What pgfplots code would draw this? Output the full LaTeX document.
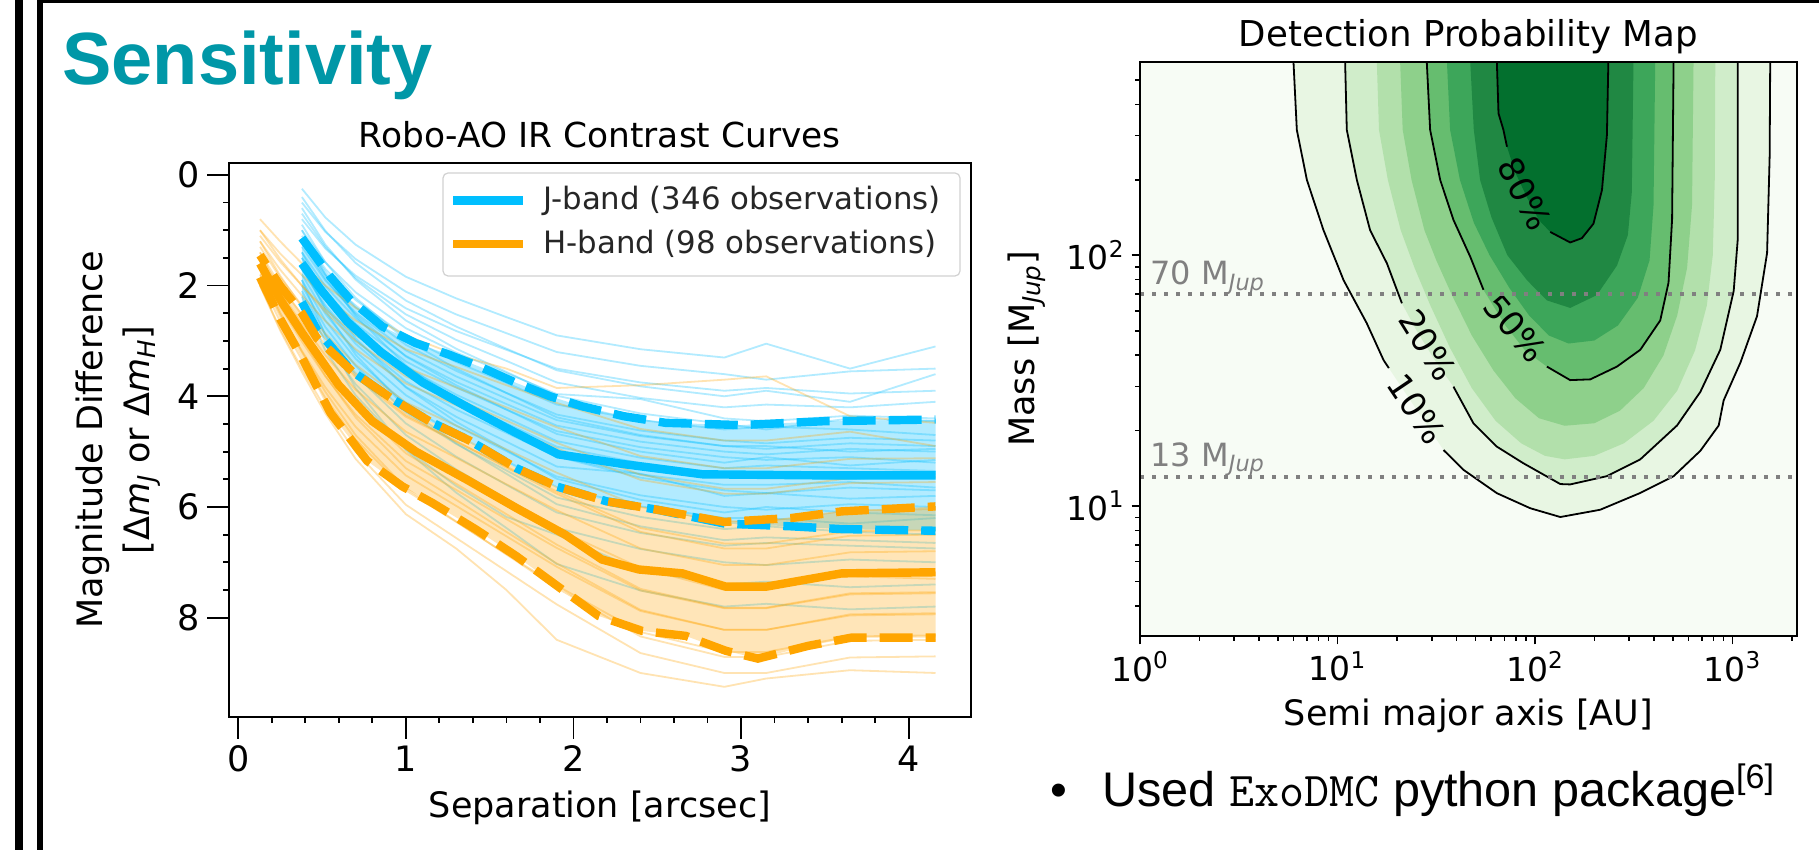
\documentclass[border=0pt]{standalone}
\usepackage{fontspec}
\setmainfont{DejaVu Sans}
\newfontfamily\arialfont{Liberation Sans}
\usepackage{pgfplots}
\pgfplotsset{compat=1.18}
\usepackage{pgfplotstable}

\definecolor{jband}{HTML}{00BFFF}
\definecolor{hband}{HTML}{FFA500}
\definecolor{slideteal}{HTML}{0097A7}
\definecolor{g0}{HTML}{F7FCF5}
\definecolor{g1}{HTML}{E8F6E3}
\definecolor{g2}{HTML}{D0EDCA}
\definecolor{g3}{HTML}{B2E0AB}
\definecolor{g4}{HTML}{8ED08B}
\definecolor{g5}{HTML}{66BD6F}
\definecolor{g6}{HTML}{3DA65A}
\definecolor{g7}{HTML}{208843}
\definecolor{g8}{HTML}{03702E}

\pgfplotsset{
  bthin/.style={color=jband, opacity=0.3, line width=0.9pt},
  othin/.style={color=hband, opacity=0.3, line width=0.9pt},
  thicksolid/.style={line width=4.2pt},
  thickdash/.style={line width=4.2pt, dash pattern=on 16.5pt off 6.5pt},
  cline/.style={black, line width=0.9pt},
}

% ---- contrast curve percentiles (separation [arcsec], delta mag)
\pgfplotstableread{
x y
0.38 1.14
0.55 1.84
0.67 2.26
0.86 2.74
1.06 3.04
1.26 3.25
1.46 3.49
1.66 3.76
1.86 4.00
2.05 4.18
2.30 4.36
2.55 4.48
3.00 4.52
3.50 4.45
4.16 4.42
}\bup
\pgfplotstableread{
x y
0.38 1.60
0.50 2.10
0.65 2.65
0.85 3.20
1.10 3.75
1.40 4.25
1.65 4.65
1.91 5.05
2.31 5.23
2.77 5.41
3.50 5.43
4.16 5.43
}\bmed
\pgfplotstableread{
x y
0.38 2.30
0.47 2.80
0.68 3.55
0.92 4.05
1.14 4.45
1.38 4.80
1.66 5.30
1.90 5.63
2.20 5.90
2.50 6.05
2.90 6.30
3.30 6.35
3.60 6.40
4.16 6.43
}\bdn
\pgfplotstableread{
x y
0.13 1.45
0.25 2.00
0.38 2.50
0.47 2.95
0.68 3.55
0.92 4.05
1.14 4.45
1.38 4.80
1.66 5.30
1.90 5.63
2.20 5.90
2.50 6.05
2.90 6.27
3.30 6.20
3.60 6.08
4.16 5.99
}\oup
\pgfplotstableread{
x y
0.13 1.60
0.25 2.25
0.38 2.85
0.60 3.80
0.80 4.45
1.06 5.00
1.36 5.50
1.66 6.02
1.95 6.50
2.17 6.95
2.39 7.13
2.65 7.20
2.91 7.44
3.15 7.44
3.60 7.20
4.16 7.18
}\omed
\pgfplotstableread{
x y
0.13 1.85
0.25 2.60
0.38 3.30
0.55 4.30
0.77 5.17
0.98 5.63
1.16 5.93
1.42 6.41
1.66 6.89
1.90 7.42
2.15 7.97
2.41 8.24
2.67 8.33
2.91 8.60
3.10 8.74
3.40 8.51
3.66 8.36
4.16 8.36
}\odn
% inter-percentile bands (upper percentile forward, lower one back)
\pgfplotstableread{
x y
0.38 1.14
0.55 1.84
0.67 2.26
0.86 2.74
1.06 3.04
1.26 3.25
1.46 3.49
1.66 3.76
1.86 4.00
2.05 4.18
2.30 4.36
2.55 4.48
3.00 4.52
3.50 4.45
4.16 4.42
4.16 6.43
3.60 6.40
3.30 6.35
2.90 6.30
2.50 6.05
2.20 5.90
1.90 5.63
1.66 5.30
1.38 4.80
1.14 4.45
0.92 4.05
0.68 3.55
0.47 2.80
0.38 2.30
}\bband
\pgfplotstableread{
x y
0.13 1.45
0.25 2.00
0.38 2.50
0.47 2.95
0.68 3.55
0.92 4.05
1.14 4.45
1.38 4.80
1.66 5.30
1.90 5.63
2.20 5.90
2.50 6.05
2.90 6.27
3.30 6.20
3.60 6.08
4.16 5.99
4.16 8.36
3.66 8.36
3.40 8.51
3.10 8.74
2.91 8.60
2.67 8.33
2.41 8.24
2.15 7.97
1.90 7.42
1.66 6.89
1.42 6.41
1.16 5.93
0.98 5.63
0.77 5.17
0.55 4.30
0.38 3.30
0.25 2.60
0.13 1.85
}\oband

% ---- detection probability contours: log10(a/AU), log10(M/MJup)
\pgfplotstableread{
lx ly
0.777 2.8
0.777 2.772
0.794 2.5
0.845 2.3
0.929 2.1
1.031 1.9
1.148 1.729
1.233 1.582
1.26 1.55
1.302 1.5
1.435 1.343
1.537 1.223
1.638 1.144
1.807 1.051
1.976 0.991
2.128 0.956
2.330 0.985
2.533 1.052
2.702 1.119
2.837 1.220
2.930 1.321
2.955 1.421
3.040 1.572
3.124 1.757
3.175 2.009
3.188 2.395
3.191 2.8
}\cten
\pgfplotstableread{
lx ly
1.0385 2.8
1.0385 2.772
1.047 2.5
1.098 2.3
1.165 2.1
1.25 1.968
1.326 1.8085
1.40 1.70
1.49 1.585
1.587 1.476
1.688 1.330
1.807 1.2365
1.942 1.170
2.128 1.0875
2.178 1.086
2.364 1.119
2.533 1.186
2.719 1.321
2.837 1.455
2.938 1.623
3.006 1.858
3.026 2.059
3.026 2.8
}\ctwenty
\pgfplotstableread{
lx ly
1.199 2.8
1.199 2.772
1.21 2.5
1.255 2.3
1.32 2.1
1.39 1.95
1.47 1.8
1.57 1.63
1.68 1.47
1.8 1.34
1.93 1.25
2.05 1.2
2.15 1.186
2.3 1.2
2.45 1.25
2.6 1.34
2.72 1.46
2.81 1.62
2.87 1.8
2.9 2.0
2.91 2.3
2.913 2.8
}\cthirty
\pgfplotstableread{
lx ly
1.317 2.8
1.317 2.772
1.33 2.5
1.375 2.3
1.44 2.1
1.5 1.98
1.58 1.84
1.68 1.68
1.79 1.54
1.9 1.43
2.02 1.35
2.15 1.32
2.3 1.33
2.43 1.38
2.55 1.47
2.65 1.6
2.72 1.76
2.77 1.95
2.795 2.2
2.803 2.8
}\cforty
\pgfplotstableread{
lx ly
1.452 2.8
1.452 2.77
1.469 2.5
1.520 2.3
1.587 2.141
1.672 1.994
1.739 1.862
1.85 1.72
1.95 1.62
2.06 1.556
2.178 1.502
2.28 1.505
2.415 1.556
2.533 1.623
2.634 1.740
2.676 1.891
2.694 2.143
2.702 2.8
}\cfifty
\pgfplotstableread{
lx ly
1.554 2.8
1.554 2.772
1.57 2.5
1.62 2.3
1.69 2.13
1.77 2.0
1.87 1.87
1.97 1.76
2.07 1.68
2.17 1.648
2.3 1.66
2.42 1.72
2.52 1.83
2.58 1.98
2.6 2.2
2.609 2.8
}\csixty
\pgfplotstableread{
lx ly
1.672 2.8
1.672 2.772
1.69 2.5
1.722 2.3
1.78 2.15
1.86 2.0
1.96 1.9
2.06 1.82
2.178 1.79
2.313 1.841
2.415 1.959
2.47 2.08
2.49 2.25
2.499 2.8
}\cseventy
\pgfplotstableread{
lx ly
1.807 2.8
1.807 2.766
1.815 2.566
1.840 2.5
1.858 2.433
1.9 2.33
1.96 2.23
2.02 2.14
2.077 2.093
2.178 2.051
2.237 2.068
2.296 2.126
2.339 2.26
2.364 2.479
2.372 2.8
}\ceighty

% contour line pieces, broken where the labels sit
\pgfplotstableread{
lx ly
0.777 2.8
0.777 2.772
0.794 2.5
0.845 2.3
0.929 2.1
1.031 1.9
1.148 1.729
1.233 1.582
1.26 1.55
}\ltena
\pgfplotstableread{
lx ly
1.537 1.223
1.638 1.144
1.807 1.051
1.976 0.991
2.128 0.956
2.330 0.985
2.533 1.052
2.702 1.119
2.837 1.220
2.930 1.321
2.955 1.421
3.040 1.572
3.124 1.757
3.175 2.009
3.188 2.395
3.191 2.8
}\ltenb
\pgfplotstableread{
lx ly
1.0385 2.8
1.0385 2.772
1.047 2.5
1.098 2.3
1.165 2.1
1.25 1.968
1.326 1.8085
}\ltwa
\pgfplotstableread{
lx ly
1.587 1.476
1.688 1.330
1.807 1.2365
1.942 1.170
2.128 1.0875
2.178 1.086
2.364 1.119
2.533 1.186
2.719 1.321
2.837 1.455
2.938 1.623
3.006 1.858
3.026 2.059
3.026 2.8
}\ltwb
\pgfplotstableread{
lx ly
1.452 2.8
1.452 2.77
1.469 2.5
1.520 2.3
1.587 2.141
1.672 1.994
1.739 1.862
}\lfia
\pgfplotstableread{
lx ly
2.06 1.556
2.178 1.502
2.28 1.505
2.415 1.556
2.533 1.623
2.634 1.740
2.676 1.891
2.694 2.143
2.702 2.8
}\lfib
\pgfplotstableread{
lx ly
1.807 2.8
1.807 2.766
1.815 2.566
1.840 2.5
1.858 2.433
}\leia
\pgfplotstableread{
lx ly
2.077 2.093
2.178 2.051
2.237 2.068
2.296 2.126
2.339 2.26
2.364 2.479
2.372 2.8
}\leib

\begin{document}
\begin{tikzpicture}[x=1pt,y=1pt]
\fill[white] (0,0) rectangle (909.5,425);
% slide frame
\fill[black] (7.5,0) rectangle (11.6,425);
\fill[black] (18.4,0) rectangle (21.6,425);
\fill[black] (18.4,423.6) rectangle (909.5,425);

\node[anchor=base west, inner sep=0, text=slideteal,
      font=\fontsize{37}{40}\arialfont\bfseries] at (31,382.5) {Sensitivity};

% ================= left: contrast curves
\begin{axis}[
  at={(114.5pt,66.65pt)}, anchor=south west,
  scale only axis, width=370.85pt, height=276.7pt,
  xmin=-0.055, xmax=4.37, ymin=-0.21, ymax=9.79, y dir=reverse,
  xtick={0,1,2,3,4}, ytick={0,2,4,6,8},
  minor x tick num=4, minor y tick num=3,
  tick align=outside, tick pos=left,
  major tick length=11pt, minor tick length=3pt,
  tick style={black, line width=0.9pt},
  axis line style={line width=0.9pt},
  ticklabel style={font=\fontsize{17.5}{20}\selectfont},
  /pgf/number format/assume math mode=true,
  title={Robo-AO IR Contrast Curves},
  title style={at={(0.5,1)}, anchor=base, yshift=1.65pt, font=\fontsize{17.2}{20}\selectfont},
  xlabel={Separation [arcsec]},
  xlabel style={at={(axis description cs:0.5,-0.183)}, anchor=base, font=\fontsize{17.5}{20}\selectfont},
  ylabel={Magnitude Difference\\{[}Δ\textit{m}\textsubscript{\textit{J}} or Δ\textit{m}\textsubscript{\textit{H}}{]}},
  ylabel style={at={(axis description cs:-0.1497,0.5)}, anchor=center, align=center,
                font=\fontsize{17.5}{23.5}\selectfont},
  no markers,
]
% J-band spread between the dashed percentiles
\addplot[fill=jband, fill opacity=0.3, draw=none] table {\bband};

% J-band individual curves
\addplot[bthin] coordinates {(0.38,0.25)(0.52,0.77)(0.7,1.26)(1.0,1.84)(1.3,2.23)(1.6,2.57)(1.9,2.90)(2.4,3.15)(2.9,3.30)(3.15,3.05)(3.65,3.50)(4.16,3.10)};
\addplot[bthin] coordinates {(0.38,0.50)(0.52,1.03)(0.7,1.52)(1.0,2.11)(1.3,2.52)(1.6,2.86)(1.9,3.20)(2.4,3.45)(2.9,3.60)(3.15,3.70)(3.65,3.55)(4.16,3.50)};
\addplot[bthin] coordinates {(0.38,0.80)(0.52,1.33)(0.7,1.82)(1.0,2.41)(1.3,2.82)(1.6,3.16)(1.9,3.50)(2.4,3.75)(2.9,3.90)(3.15,3.85)(3.65,3.95)(4.16,3.90)};
\addplot[bthin] coordinates {(0.38,0.70)(0.52,1.30)(0.7,1.86)(1.0,2.52)(1.3,2.98)(1.6,3.36)(1.9,3.75)(2.4,4.03)(2.9,4.20)(3.15,4.15)(3.65,4.20)(4.16,4.10)};
\addplot[bthin] coordinates {(0.38,1.00)(0.52,1.58)(0.7,2.12)(1.0,2.77)(1.3,3.21)(1.6,3.58)(1.9,3.96)(2.4,4.05)(2.9,4.40)(3.15,4.45)(3.65,4.35)(4.16,4.40)};
\addplot[bthin] coordinates {(0.38,1.10)(0.52,1.70)(0.7,2.26)(1.0,2.92)(1.3,3.38)(1.6,3.76)(1.9,4.15)(2.4,4.43)(2.9,4.60)(3.15,4.55)(3.65,4.60)(4.16,4.70)};
\addplot[bthin] coordinates {(0.38,1.20)(0.52,1.81)(0.7,2.39)(1.0,3.07)(1.3,3.54)(1.6,3.94)(1.9,4.33)(2.4,4.62)(2.9,4.80)(3.15,4.85)(3.65,4.75)(4.16,4.80)};
\addplot[bthin] coordinates {(0.38,1.30)(0.52,1.91)(0.7,2.49)(1.0,3.17)(1.3,3.64)(1.6,4.04)(1.9,4.43)(2.4,4.72)(2.9,4.90)(3.15,4.90)(3.65,5.00)(4.16,4.95)};
\addplot[bthin] coordinates {(0.38,1.40)(0.52,2.01)(0.7,2.59)(1.0,3.27)(1.3,3.74)(1.6,4.14)(1.9,4.53)(2.4,4.82)(2.9,5.00)(3.15,5.05)(3.65,4.95)(4.16,5.00)};
\addplot[bthin] coordinates {(0.38,1.50)(0.52,2.11)(0.7,2.69)(1.0,3.37)(1.3,3.84)(1.6,4.24)(1.9,4.63)(2.4,4.92)(2.9,5.10)(3.15,5.15)(3.65,5.10)(4.16,5.20)};
\addplot[bthin] coordinates {(0.38,1.50)(0.52,2.15)(0.7,2.75)(1.0,3.48)(1.3,3.97)(1.6,4.39)(1.9,4.81)(2.4,5.11)(2.9,5.30)(3.15,5.25)(3.65,5.30)(4.16,5.35)};
\addplot[bthin] coordinates {(0.38,1.60)(0.52,2.25)(0.7,2.85)(1.0,3.58)(1.3,4.07)(1.6,4.49)(1.9,4.91)(2.4,5.21)(2.9,5.40)(3.15,5.45)(3.65,5.50)(4.16,5.40)};
\addplot[bthin] coordinates {(0.38,1.70)(0.52,2.36)(0.7,2.99)(1.0,3.73)(1.3,4.24)(1.6,4.66)(1.9,5.09)(2.4,5.41)(2.9,5.60)(3.15,5.60)(3.65,5.55)(4.16,5.65)};
\addplot[bthin] coordinates {(0.38,1.70)(0.52,2.40)(0.7,3.05)(1.0,3.83)(1.3,4.37)(1.6,4.82)(1.9,5.27)(2.4,5.40)(2.9,5.80)(3.15,5.75)(3.65,5.85)(4.16,5.80)};
\addplot[bthin] coordinates {(0.38,1.80)(0.52,2.51)(0.7,3.19)(1.0,3.98)(1.3,4.53)(1.6,4.99)(1.9,5.45)(2.4,5.79)(2.9,6.00)(3.15,6.05)(3.65,5.95)(4.16,6.00)};
\addplot[bthin] coordinates {(0.38,1.90)(0.52,2.63)(0.7,3.32)(1.0,4.14)(1.3,4.70)(1.6,5.17)(1.9,5.64)(2.4,5.99)(2.9,6.20)(3.15,6.20)(3.65,6.30)(4.16,6.20)};
\addplot[bthin] coordinates {(0.38,2.00)(0.52,2.75)(0.7,3.45)(1.0,4.29)(1.3,4.86)(1.6,5.34)(1.9,5.83)(2.4,6.18)(2.9,6.40)(3.15,6.35)(3.65,6.45)(4.16,6.50)};
\addplot[bthin] coordinates {(0.38,2.10)(0.52,2.88)(0.7,3.62)(1.0,4.49)(1.3,5.09)(1.6,5.60)(1.9,6.10)(2.4,6.47)(2.9,6.70)(3.15,6.65)(3.65,6.70)(4.16,6.75)};
\addplot[bthin] coordinates {(0.38,2.20)(0.52,3.02)(0.7,3.78)(1.0,4.70)(1.3,5.32)(1.6,5.85)(1.9,6.38)(2.4,6.76)(2.9,7.00)(3.15,7.05)(3.65,6.95)(4.16,7.00)};
\addplot[bthin] coordinates {(0.38,2.30)(0.52,3.17)(0.7,3.98)(1.0,4.95)(1.3,5.62)(1.6,6.18)(1.9,6.50)(2.4,7.15)(2.9,7.40)(3.15,7.35)(3.65,7.45)(4.16,7.40)};
\addplot[bthin] coordinates {(0.38,1.20)(0.52,1.88)(0.7,2.52)(1.0,3.28)(1.3,3.80)(1.6,4.24)(1.9,4.68)(2.4,5.00)(2.9,5.20)(3.15,5.10)(3.65,5.25)(4.16,5.15)};
\addplot[bthin] coordinates {(0.38,0.90)(0.52,1.58)(0.7,2.22)(1.0,2.98)(1.3,3.50)(1.6,3.94)(1.9,4.38)(2.4,4.70)(2.9,4.90)(3.15,4.95)(3.65,4.85)(4.16,4.90)};
\addplot[bthin] coordinates {(0.38,1.00)(0.52,1.80)(0.7,2.55)(1.0,3.44)(1.3,4.06)(1.6,4.57)(1.9,5.09)(2.4,5.47)(2.9,5.70)(3.15,5.75)(3.65,5.65)(4.16,5.70)};
\addplot[bthin] coordinates {(0.38,1.40)(0.52,2.20)(0.7,2.95)(1.0,3.84)(1.3,4.46)(1.6,4.97)(1.9,5.49)(2.4,5.87)(2.9,6.10)(3.15,6.00)(3.65,6.10)(4.16,6.15)};
\addplot[bthin] coordinates {(0.38,1.60)(0.52,2.45)(0.7,3.25)(1.0,4.20)(1.3,4.85)(1.6,5.40)(1.9,5.95)(2.4,6.35)(2.9,6.60)(3.15,6.55)(3.65,6.60)(4.16,6.65)};
\addplot[bthin] coordinates {(0.38,1.90)(0.52,2.90)(0.7,3.85)(1.0,4.97)(1.3,5.74)(1.6,6.38)(1.9,7.03)(2.4,7.51)(2.9,7.80)(3.15,7.75)(3.65,7.85)(4.16,7.80)};
\addplot[bthin] coordinates {(0.38,0.60)(0.52,1.26)(0.7,1.89)(1.0,2.63)(1.3,3.14)(1.6,3.56)(1.9,3.99)(2.4,4.31)(2.9,4.50)(3.15,4.60)(3.65,4.40)(4.16,4.45)};
\addplot[bthin] coordinates {(0.38,0.40)(0.52,1.01)(0.7,1.59)(1.0,2.27)(1.3,2.74)(1.6,3.14)(1.9,3.53)(2.4,3.82)(2.9,4.00)(3.15,3.90)(3.65,4.10)(4.16,3.60)};

% H-band spread between the dashed percentiles
\addplot[fill=hband, fill opacity=0.28, draw=none] table {\oband};

% H-band individual curves
\addplot[othin] coordinates {(0.13,0.80)(0.25,1.20)(0.38,1.60)(0.52,2.00)(0.7,2.40)(1.0,2.90)(1.3,3.25)(1.6,3.50)(1.9,3.85)(2.4,3.80)(2.9,3.70)(3.15,3.64)(3.65,4.36)(4.16,4.48)};
\addplot[othin] coordinates {(0.13,1.00)(0.25,1.42)(0.38,1.81)(0.52,2.20)(0.7,2.63)(1.0,3.15)(1.3,3.47)(1.6,3.80)(1.9,4.12)(2.4,4.59)(2.9,4.80)(3.15,4.80)(3.65,4.64)(4.16,4.90)};
\addplot[othin] coordinates {(0.13,1.10)(0.25,1.57)(0.38,2.00)(0.52,2.43)(0.7,2.90)(1.0,3.48)(1.3,3.84)(1.6,4.20)(1.9,4.56)(2.4,5.08)(2.9,5.30)(3.15,5.30)(3.65,5.13)(4.16,5.12)};
\addplot[othin] coordinates {(0.13,1.20)(0.25,1.71)(0.38,2.18)(0.52,2.64)(0.7,3.15)(1.0,3.77)(1.3,4.16)(1.6,4.55)(1.9,4.94)(2.4,5.51)(2.9,5.76)(3.15,5.76)(3.65,5.57)(4.16,5.55)};
\addplot[othin] coordinates {(0.13,1.30)(0.25,1.85)(0.38,2.36)(0.52,2.87)(0.7,3.43)(1.0,4.11)(1.3,4.53)(1.6,4.96)(1.9,5.38)(2.4,6.00)(2.9,6.26)(3.15,6.26)(3.65,6.06)(4.16,6.04)};
\addplot[othin] coordinates {(0.13,1.40)(0.25,1.99)(0.38,2.53)(0.52,3.07)(0.7,3.65)(1.0,4.37)(1.3,4.82)(1.6,5.27)(1.9,5.72)(2.4,6.38)(2.9,6.66)(3.15,6.66)(3.65,6.44)(4.16,6.42)};
\addplot[othin] coordinates {(0.13,1.50)(0.25,2.12)(0.38,2.69)(0.52,3.26)(0.7,3.88)(1.0,4.64)(1.3,5.11)(1.6,5.59)(1.9,6.06)(2.4,6.75)(2.9,7.05)(3.15,7.05)(3.65,6.82)(4.16,6.80)};
\addplot[othin] coordinates {(0.13,1.60)(0.25,2.25)(0.38,2.85)(0.52,3.45)(0.7,4.10)(1.0,4.90)(1.3,5.40)(1.6,5.90)(1.9,6.40)(2.4,7.10)(2.9,7.50)(3.15,7.40)(3.65,7.25)(4.16,7.30)};
\addplot[othin] coordinates {(0.13,1.70)(0.25,2.38)(0.38,3.01)(0.52,3.64)(0.7,4.33)(1.0,5.17)(1.3,5.69)(1.6,6.22)(1.9,6.74)(2.4,7.51)(2.9,7.83)(3.15,7.83)(3.65,7.58)(4.16,7.56)};
\addplot[othin] coordinates {(0.13,1.80)(0.25,2.52)(0.38,3.18)(0.52,3.84)(0.7,4.55)(1.0,5.43)(1.3,5.98)(1.6,6.53)(1.9,7.08)(2.4,7.88)(2.9,8.22)(3.15,8.22)(3.65,7.96)(4.16,7.94)};
\addplot[othin] coordinates {(0.13,1.90)(0.25,2.65)(0.38,3.34)(0.52,4.03)(0.7,4.78)(1.0,5.70)(1.3,6.27)(1.6,6.85)(1.9,7.42)(2.4,8.26)(2.9,8.62)(3.15,8.62)(3.65,8.34)(4.16,8.32)};
\addplot[othin] coordinates {(0.13,2.00)(0.25,2.78)(0.38,3.50)(0.52,4.22)(0.7,5.00)(1.0,5.96)(1.3,6.56)(1.6,7.16)(1.9,7.76)(2.4,8.64)(2.9,9.00)(3.15,9.00)(3.65,8.72)(4.16,8.70)};
\addplot[othin] coordinates {(0.13,2.00)(0.25,2.81)(0.38,3.56)(0.52,4.31)(0.7,5.13)(1.0,6.13)(1.3,6.75)(1.6,7.50)(1.9,8.40)(2.4,9.00)(2.9,9.25)(3.15,9.10)(3.65,8.95)(4.16,9.00)};
\addplot[othin] coordinates {(0.13,1.40)(0.25,2.12)(0.38,2.78)(0.52,3.44)(0.7,4.15)(1.0,5.03)(1.3,5.58)(1.6,6.13)(1.9,6.68)(2.4,7.48)(2.9,7.82)(3.15,7.82)(3.65,7.56)(4.16,7.54)};
\addplot[othin] coordinates {(0.13,1.20)(0.25,1.82)(0.38,2.39)(0.52,2.96)(0.7,3.58)(1.0,4.34)(1.3,4.81)(1.6,5.29)(1.9,5.76)(2.4,6.45)(2.9,6.75)(3.15,6.75)(3.65,6.52)(4.16,6.50)};
\addplot[othin] coordinates {(0.13,1.50)(0.25,2.25)(0.38,2.94)(0.52,3.63)(0.7,4.38)(1.0,5.30)(1.3,5.87)(1.6,6.45)(1.9,7.02)(2.4,7.86)(2.9,8.22)(3.15,8.22)(3.65,7.94)(4.16,7.92)};
\addplot[othin] coordinates {(0.13,1.00)(0.25,1.52)(0.38,2.00)(0.52,2.48)(0.7,3.00)(1.0,3.64)(1.3,4.04)(1.6,4.44)(1.9,4.84)(2.4,5.42)(2.9,5.67)(3.15,5.67)(3.65,5.48)(4.16,5.46)};
\addplot[othin] coordinates {(0.13,1.70)(0.25,2.48)(0.38,3.20)(0.52,3.92)(0.7,4.70)(1.0,5.66)(1.3,6.26)(1.6,6.86)(1.9,7.46)(2.4,8.34)(2.9,8.71)(3.15,8.71)(3.65,8.42)(4.16,8.40)};

% percentile curves
\addplot[jband, thickdash] table {\bup};
\addplot[jband, thicksolid] table {\bmed};
\addplot[jband, thickdash] table {\bdn};
\addplot[hband, thicksolid] table {\omed};
\addplot[hband, thickdash, dash phase=11pt] table {\oup};
\addplot[hband, thickdash] table {\odn};
\end{axis}

% legend of the left panel
\draw[black!18, line width=0.6pt, fill=white, fill opacity=0.85, rounded corners=2.5pt]
  (221.5,287) rectangle (480,338.5);
\draw[jband, line width=4.2pt] (226.5,324.65) -- (261.5,324.65);
\draw[hband, line width=4.2pt] (226.5,303) -- (261.5,303);
\node[anchor=west, inner sep=0, text=black!85, font=\fontsize{15.4}{18}\selectfont] at (271.5,324.65) {J-band (346 observations)};
\node[anchor=west, inner sep=0, text=black!85, font=\fontsize{15.4}{18}\selectfont] at (271.5,303) {H-band (98 observations)};

% ================= right: detection probability map (log10 units on both axes)
\begin{axis}[
  at={(570pt,107pt)}, anchor=south west,
  scale only axis, width=328.35pt, height=287.15pt,
  xmin=0, xmax=3.325, ymin=0.4815, ymax=2.772,
  xtick={0,1,2,3},
  xticklabels={10\textsuperscript{0},10\textsuperscript{1},10\textsuperscript{2},10\textsuperscript{3}},
  ytick={1,2},
  yticklabels={10\textsuperscript{1},10\textsuperscript{2}},
  minor xtick={0.301,0.477,0.602,0.699,0.778,0.845,0.903,0.954,
               1.301,1.477,1.602,1.699,1.778,1.845,1.903,1.954,
               2.301,2.477,2.602,2.699,2.778,2.845,2.903,2.954,3.301},
  minor ytick={0.602,0.699,0.778,0.845,0.903,0.954,
               1.301,1.477,1.602,1.699,1.778,1.845,1.903,1.954,
               2.301,2.477,2.602,2.699},
  tick align=outside, tick pos=left,
  major tick length=4.2pt, minor tick length=2.4pt,
  tick style={black, line width=0.8pt},
  axis line style={line width=0.9pt},
  axis on top,
  axis background/.style={fill=g0},
  ticklabel style={font=\fontsize{16.5}{19}\selectfont},
  title={Detection Probability Map},
  title style={at={(0.5,1)}, anchor=base, yshift=1.35pt, font=\fontsize{17.8}{20}\selectfont},
  xlabel={Semi major axis [AU]},
  xlabel style={at={(axis description cs:0.5,-0.155)}, anchor=base, font=\fontsize{17.5}{20}\selectfont},
  ylabel={Mass [M\textsubscript{\textit{Jup}}]},
  ylabel style={at={(axis description cs:-0.172,0.5)}, anchor=center, font=\fontsize{17.5}{20}\selectfont},
  no markers,
]
\addplot[fill=g1, draw=none] table[x=lx, y=ly] {\cten};
\addplot[fill=g2, draw=none] table[x=lx, y=ly] {\ctwenty};
\addplot[fill=g3, draw=none] table[x=lx, y=ly] {\cthirty};
\addplot[fill=g4, draw=none] table[x=lx, y=ly] {\cforty};
\addplot[fill=g5, draw=none] table[x=lx, y=ly] {\cfifty};
\addplot[fill=g6, draw=none] table[x=lx, y=ly] {\csixty};
\addplot[fill=g7, draw=none] table[x=lx, y=ly] {\cseventy};
\addplot[fill=g8, draw=none] table[x=lx, y=ly] {\ceighty};

\addplot[cline] table[x=lx, y=ly] {\ltena};
\addplot[cline] table[x=lx, y=ly] {\ltenb};
\addplot[cline] table[x=lx, y=ly] {\ltwa};
\addplot[cline] table[x=lx, y=ly] {\ltwb};
\addplot[cline] table[x=lx, y=ly] {\lfia};
\addplot[cline] table[x=lx, y=ly] {\lfib};
\addplot[cline] table[x=lx, y=ly] {\leia};
\addplot[cline] table[x=lx, y=ly] {\leib};

\node[rotate=-56, font=\fontsize{17}{20}\selectfont] at (axis cs:1.40,1.387) {10\%};
\node[rotate=-58, font=\fontsize{17}{20}\selectfont] at (axis cs:1.457,1.642) {20\%};
\node[rotate=-50, font=\fontsize{17}{20}\selectfont] at (axis cs:1.90,1.709) {50\%};
\node[rotate=-63, font=\fontsize{17}{20}\selectfont] at (axis cs:1.95,2.245) {80\%};

% 70 and 13 Jupiter masses
\addplot[color=gray, line width=2pt, dash pattern=on 2pt off 4pt] coordinates {(0,1.8451) (3.325,1.8451)};
\addplot[color=gray, line width=2pt, dash pattern=on 2pt off 4pt] coordinates {(0,1.1139) (3.325,1.1139)};
\node[anchor=base west, inner sep=0, text=gray, font=\fontsize{16}{19}\selectfont] at (axis cs:0.0507,1.882) {70 M\textsubscript{\textit{Jup}}};
\node[anchor=base west, inner sep=0, text=gray, font=\fontsize{16}{19}\selectfont] at (axis cs:0.0507,1.1568) {13 M\textsubscript{\textit{Jup}}};
\end{axis}

% bullet text
\node[anchor=base west, inner sep=0, font=\fontsize{24}{28}\arialfont] at (525,21.5) {•};
\node[anchor=base west, inner sep=0, font=\fontsize{24.3}{28}\arialfont] at (551,21.5)
  {Used {\ttfamily\addfontfeature{FakeStretch=1.14}ExoDMC} python package\textsuperscript{[6]}};

\pgfresetboundingbox
\path[use as bounding box] (0,0) rectangle (909.5,425);
\end{tikzpicture}
\end{document}
